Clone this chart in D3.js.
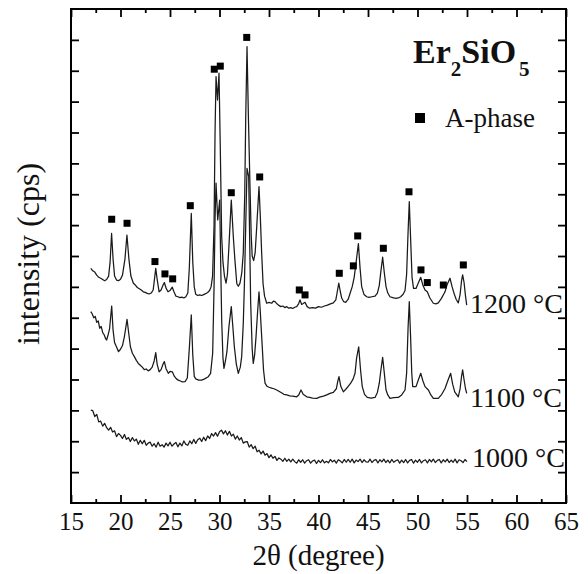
<!DOCTYPE html>
<html>
<head>
<meta charset="utf-8">
<script src="https://cdn.jsdelivr.net/npm/d3@7"></script>
<style>
  body { margin: 0; background: #fff; }
</style>
</head>
<body>
<svg id="chart" width="588" height="574"></svg>
<script>
// 1200 °C scan, [2θ, intensity]
const scan1200 = [
  [17.0,760],[17.2,752],[17.4,748],[17.6,738],[17.8,731],[18.0,728],[18.2,724],[18.4,720],[18.6,724],[18.8,735],
  [18.95,780],[19.1,873],[19.25,790],[19.4,735],[19.6,722],[19.8,720],[20.0,725],[20.2,738],[20.45,790],[20.65,868],
  [20.85,790],[21.05,735],[21.3,712],[21.5,706],[21.7,698],[21.9,694],[22.1,690],[22.3,684],[22.5,682],[22.7,679],
  [22.9,677],[23.1,680],[23.3,690],[23.45,730],[23.56,760],[23.7,725],[23.9,684],[24.1,690],[24.3,706],[24.43,714],
  [24.6,696],[24.8,684],[25.0,688],[25.23,699],[25.4,684],[25.6,670],[25.8,668],[26.0,665],[26.2,667],[26.4,664],
  [26.6,668],[26.8,680],[26.95,760],[27.15,938],[27.3,780],[27.45,700],[27.6,676],[27.8,672],[28.0,674],[28.2,672],
  [28.4,675],[28.6,678],[28.8,682],[29.0,688],[29.15,700],[29.3,735],[29.45,900],[29.55,1200],[29.65,1381],[29.8,1305],
  [29.95,1392],[30.08,1150],[30.22,863],[30.35,780],[30.5,735],[30.66,712],[30.8,740],[30.95,830],[31.19,981],[31.4,860],
  [31.55,790],[31.75,710],[31.9,702],[32.07,712],[32.25,745],[32.4,809],[32.55,1000],[32.65,1250],[32.78,1478],[32.92,1250],
  [33.08,1025],[33.2,870],[33.3,800],[33.45,785],[33.6,810],[33.76,895],[33.99,1025],[34.12,930],[34.26,809],[34.4,710],
  [34.55,670],[34.77,647],[35.0,650],[35.27,647],[35.45,654],[35.61,652],[35.8,645],[36.0,640],[36.2,636],[36.4,638],
  [36.6,633],[36.8,636],[37.0,631],[37.2,633],[37.4,630],[37.6,634],[37.8,636],[38.0,646],[38.13,658],[38.3,643],
  [38.45,646],[38.64,650],[38.85,636],[39.1,631],[39.4,633],[39.7,631],[40.0,636],[40.3,634],[40.6,638],[40.9,641],
  [41.2,645],[41.5,648],[41.75,658],[41.9,685],[42.05,712],[42.2,685],[42.35,663],[42.55,652],[42.75,650],[43.0,660],
  [43.2,680],[43.4,700],[43.6,730],[43.8,780],[44.03,840],[44.2,760],[44.36,701],[44.6,675],[44.87,668],[45.1,666],
  [45.4,668],[45.71,670],[45.95,680],[46.14,705],[46.3,750],[46.48,796],[46.65,745],[46.82,701],[47.0,680],[47.22,668],
  [47.5,665],[47.8,663],[48.06,664],[48.3,668],[48.55,676],[48.74,688],[48.9,740],[49.05,880],[49.17,976],[49.3,860],
  [49.45,730],[49.6,695],[49.85,695],[50.05,710],[50.33,731],[50.55,705],[50.76,690],[50.99,684],[51.25,664],[51.6,647],
  [51.85,645],[52.1,648],[52.4,662],[52.78,684],[53.0,708],[53.28,728],[53.5,700],[53.69,679],[53.9,660],[54.12,648],
  [54.3,675],[54.45,720],[54.56,739],[54.7,715],[54.85,670],[54.97,641]
];

// 1100 °C scan
const scan1100 = [
  [17.0,620],[17.15,612],[17.3,600],[17.45,604],[17.6,585],[17.75,590],[17.9,566],[18.05,572],[18.2,552],[18.35,545],
  [18.5,532],[18.6,528],[18.75,545],[18.9,565],[19.0,600],[19.11,638],[19.25,560],[19.4,520],[19.6,505],[19.8,490],
  [20.0,498],[20.2,510],[20.4,540],[20.66,595],[20.85,545],[21.0,506],[21.2,485],[21.4,474],[21.6,462],[21.8,452],
  [22.0,446],[22.2,440],[22.4,432],[22.6,434],[22.8,428],[23.0,432],[23.2,440],[23.4,460],[23.56,487],[23.7,450],
  [23.9,425],[24.1,432],[24.3,450],[24.43,458],[24.6,435],[24.83,420],[25.0,426],[25.23,425],[25.45,410],[25.65,402],
  [25.84,398],[26.05,395],[26.25,392],[26.52,393],[26.75,405],[26.95,500],[27.15,609],[27.3,480],[27.45,410],[27.6,402],
  [27.9,398],[28.2,398],[28.5,402],[28.87,409],[29.1,420],[29.31,485],[29.45,700],[29.55,920],[29.65,1036],[29.82,917],
  [30.02,981],[30.12,780],[30.22,593],[30.35,470],[30.45,436],[30.6,460],[30.75,490],[30.95,570],[31.19,636],[31.35,570],
  [31.5,506],[31.7,450],[31.9,420],[32.1,440],[32.24,474],[32.4,580],[32.51,701],[32.65,900],[32.78,1084],[32.95,1057],
  [33.05,850],[33.15,647],[33.3,500],[33.41,452],[33.55,480],[33.69,539],[33.85,620],[33.99,684],[34.12,620],[34.26,539],
  [34.45,430],[34.6,388],[34.8,378],[35.0,375],[35.27,372],[35.5,370],[35.78,366],[36.0,362],[36.3,356],[36.5,352],
  [36.79,350],[37.1,347],[37.4,346],[37.8,344],[38.0,350],[38.23,366],[38.45,352],[38.81,344],[39.1,342],[39.4,340],
  [39.82,339],[40.1,343],[40.5,346],[40.83,350],[41.16,355],[41.5,358],[41.8,370],[41.95,395],[42.07,409],[42.25,378],
  [42.51,360],[42.8,370],[43.0,378],[43.25,388],[43.5,402],[43.69,420],[43.85,470],[44.06,506],[44.25,430],[44.42,377],
  [44.65,352],[44.93,342],[45.3,340],[45.71,342],[45.95,358],[46.14,388],[46.3,430],[46.48,472],[46.65,420],[46.82,366],
  [47.0,350],[47.22,339],[47.6,341],[48.06,342],[48.4,350],[48.74,366],[48.9,420],[49.05,570],[49.17,652],[49.3,540],
  [49.42,420],[49.52,377],[49.85,377],[50.1,400],[50.33,420],[50.55,395],[50.76,377],[51.1,366],[51.35,350],[51.6,339],
  [52.1,339],[52.45,352],[52.78,371],[53.05,395],[53.35,420],[53.55,385],[53.76,360],[54.12,344],[54.3,370],[54.45,410],
  [54.56,431],[54.7,400],[54.85,370],[54.97,355]
];

// 1000 °C scan, one value per 0.2° step from 17.0°
const scanStart = 17.0, scanStep = 0.2;
const counts1000 = [
  301,299,280,287,263,265,249,258,244,236,
  245,230,234,215,225,219,209,222,206,212,
  199,212,201,207,190,203,192,203,187,194,
  197,184,192,181,197,184,189,181,194,185,
  197,184,191,196,182,194,185,201,190,187,
  201,192,206,193,205,210,199,213,202,217,
  209,225,217,228,216,231,236,224,234,220,
  232,217,223,207,217,204,212,194,198,199,
  181,189,176,184,166,171,159,168,155,160,
  147,156,145,151,138,146,142,135,145,135,
  142,133,142,134,129,140,132,140,129,137,
  140,129,136,139,128,138,131,140,130,135,
  130,141,133,139,129,140,136,130,141,132,
  141,132,142,130,139,134,142,131,140,133,
  132,142,131,138,141,130,140,133,142,131,
  139,130,141,132,137,140,129,139,131,141,
  130,138,141,129,139,132,141,130,137,140,
  130,141,133,142,131,138,141,130,140,133,
  142,131,139,132,142,130,140,137,131,141,
  134
];

// A-phase reflections marked on the 1200 °C scan
const aPhase = [
  [19.11,919],[20.66,906],[23.48,782],[24.49,742],[25.27,726],[27.05,963],[29.47,1405],[30.08,1415],
  [31.19,1005],[32.75,1508],[34.06,1056],[38.06,690],[38.64,674],[42.1,744],[43.52,768],[43.96,865],
  [46.55,825],[49.14,1008],[50.35,755],[50.99,714],[52.61,706],[54.63,771]
];

const xMajor = [15,20,25,30,35,40,45,50,55,60,65];
const xMinor = [17.5,22.5,27.5,32.5,37.5,42.5,47.5,52.5,57.5,62.5];
const yTicks = [100,200,300,400,500,600,700,800,900,1000,1100,1200,1300,1400,1500];

const labels = [
  { text: "1200 °C", x: 470, y: 313 },
  { text: "1100 °C", x: 470, y: 407 },
  { text: "1000 °C", x: 472, y: 467 }
];

const FONT = '"Liberation Serif", "Times New Roman", serif';
const svg = d3.select("#chart");
const plotL = 71, plotR = 566, plotT = 9, plotB = 503;

const x = d3.scaleLinear().domain([15, 65]).range([plotL, plotR]);
const y = d3.scaleLinear().domain([0, 1600]).range([plotB, plotT]);

// --- traces ---
const line = d3.line().x(d => x(d[0])).y(d => y(d[1]));
const scan1000 = counts1000.map((c, i) => [scanStart + i * scanStep, c]);

[scan1200, scan1100, scan1000].forEach(s => {
  svg.append("path").datum(s)
    .attr("fill", "none")
    .attr("stroke", "#1a1a1a")
    .attr("stroke-width", 1.25)
    .attr("stroke-linejoin", "round")
    .attr("d", line);
});

// --- A-phase markers ---
svg.selectAll("rect.mk").data(aPhase).enter().append("rect")
  .attr("class", "mk")
  .attr("x", d => x(d[0]) - 3.5).attr("y", d => y(d[1]) - 3.5)
  .attr("width", 7).attr("height", 7)
  .attr("fill", "#000");

// --- axes (ticks inward) ---
const styleAxis = g => {
  g.select(".domain").remove();
  g.selectAll("line").attr("stroke", "#000").attr("stroke-width", 1.8);
};

svg.append("g").attr("transform", `translate(0,${plotB})`)
  .call(d3.axisBottom(x).tickValues(xMajor).tickSize(-8).tickPadding(9).tickFormat(d3.format("d")))
  .call(styleAxis)
  .call(g => g.selectAll("text").style("font-family", FONT).style("font-size", "25px").attr("fill", "#111"));
svg.append("g").attr("transform", `translate(0,${plotB})`)
  .call(d3.axisBottom(x).tickValues(xMinor).tickSize(-4).tickFormat(""))
  .call(styleAxis);
svg.append("g").attr("transform", `translate(0,${plotT})`)
  .call(d3.axisTop(x).tickValues(xMajor).tickSize(-8).tickFormat(""))
  .call(styleAxis);
svg.append("g").attr("transform", `translate(0,${plotT})`)
  .call(d3.axisTop(x).tickValues(xMinor).tickSize(-4).tickFormat(""))
  .call(styleAxis);
svg.append("g").attr("transform", `translate(${plotL},0)`)
  .call(d3.axisLeft(y).tickValues(yTicks).tickSize(-8).tickFormat(""))
  .call(styleAxis);
svg.append("g").attr("transform", `translate(${plotR},0)`)
  .call(d3.axisRight(y).tickValues(yTicks).tickSize(-8).tickFormat(""))
  .call(styleAxis);

svg.append("rect")
  .attr("x", plotL).attr("y", plotT)
  .attr("width", plotR - plotL).attr("height", plotB - plotT)
  .attr("fill", "none").attr("stroke", "#000").attr("stroke-width", 2);

// --- titles ---
svg.append("text")
  .attr("x", (plotL + plotR) / 2).attr("y", 565)
  .attr("text-anchor", "middle")
  .style("font-family", FONT).style("font-size", "29px").attr("fill", "#111")
  .text("2θ (degree)");

svg.append("text")
  .attr("transform", "translate(39,254) rotate(-90)")
  .attr("text-anchor", "middle")
  .style("font-family", FONT).style("font-size", "32px").attr("fill", "#111")
  .text("intensity (cps)");

// --- temperature labels ---
svg.selectAll("text.temp").data(labels).enter().append("text")
  .attr("class", "temp")
  .attr("x", d => d.x).attr("y", d => d.y)
  .style("font-family", FONT).style("font-size", "28px").attr("fill", "#111")
  .text(d => d.text);

// --- legend ---
const formula = svg.append("text").attr("x", 413).attr("y", 63)
  .style("font-family", FONT).style("font-size", "34px").style("font-weight", "bold").attr("fill", "#111");
formula.append("tspan").text("Er");
formula.append("tspan").style("font-size", "21px").attr("dy", 13).text("2");
formula.append("tspan").attr("dy", -13).text("SiO");
formula.append("tspan").style("font-size", "21px").attr("dy", 13).attr("dx", 3).text("5");

svg.append("rect").attr("x", 415).attr("y", 113).attr("width", 10).attr("height", 10).attr("fill", "#000");
svg.append("text").attr("x", 445).attr("y", 127)
  .style("font-family", FONT).style("font-size", "27px").attr("fill", "#111")
  .text("A-phase");
</script>
</body>
</html>
